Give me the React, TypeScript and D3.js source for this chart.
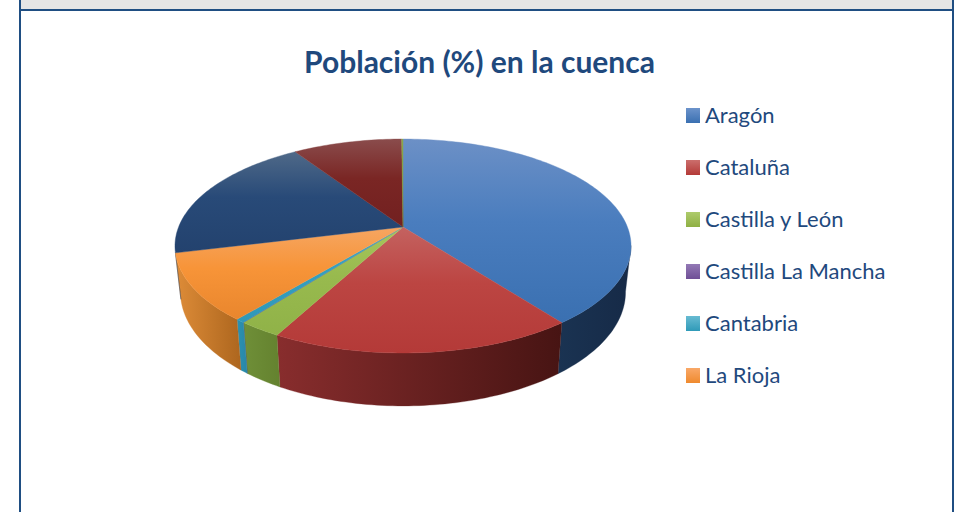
import React from 'react';
import * as d3 from 'd3';

const regions = ['Aragón', 'Cataluña', 'Castilla y León', 'Castilla La Mancha', 'Cantabria', 'La Rioja', 'Navarra', 'País Vasco', 'C. Valenciana'];
const population = [39.6, 18.26, 2.6, 0.01, 0.55, 10.14, 19.53, 9.2, 0.11];
const legendRegions = regions.slice(0, 6);

// top face: light, mid, base colour
const topColors = [
  ['#6c90c6', '#4a7dbe', '#3a70b1'],
  ['#c46260', '#bc4542', '#b43a38'],
  ['#a6c65c', '#98ba4e', '#90b248'],
  ['#8a6cac', '#7d5fa0', '#704f92'],
  ['#3fa8c6', '#33a0c0', '#2f98b8'],
  ['#f6a662', '#f79438', '#e9862d'],
  ['#4f6988', '#284a78', '#23426e'],
  ['#8a4c4c', '#7a2624', '#722020'],
  ['#8aa84a', '#7f9c40', '#76933a'],
];
// side face: left and right colour
const sideColors = [
  ['#1a3352', '#162a47'],
  ['#882d2d', '#471413'],
  ['#6f8f38', '#64822f'],
  ['#55407a', '#4a3770'],
  ['#2b92b2', '#2986a6'],
  ['#de8c38', '#ad661e'],
  ['#1a3352', '#162a47'],
  ['#4a1515', '#4a1515'],
  ['#64822f', '#64822f'],
];
const legendColors = [
  ['#6c93cb', '#3a70b1'],
  ['#cb6e6c', '#b43a38'],
  ['#aecb6c', '#8fb044'],
  ['#9379b5', '#6f4f96'],
  ['#68bbd2', '#2f9ab8'],
  ['#f9a868', '#ef8a2e'],
];

const width = 955;
const height = 512;
const navy = '#1f4e82';
const textColor = '#1f497d';
const font = 'Lato, sans-serif';

// perspective of the pie disc, fitted to the picture
const cx = 403;
const cy = 227;
const persp = 0.1776;
const rx = 224.4;
const ry = 103.6;
// the lower rim is its own ellipse, a bit narrower and rounder than the top
const topMidY = 246;
const rimMidY = 292;
const rimScaleX = 0.976;
const rimScaleY = 1.065;
// part of the side that faces the viewer
const sideFrom = (100 * Math.PI) / 180;
const sideTo = (256.4 * Math.PI) / 180;

const project = (a: number): [number, number] => {
  const X = Math.sin(a);
  const Y = -Math.cos(a);
  const w = 1 - persp * Y;
  return [cx + (rx * X) / w, cy + (ry * Y) / w];
};
const projectRim = (a: number): [number, number] => {
  const [x, y] = project(a);
  return [cx + (x - cx) * rimScaleX, rimMidY + (y - topMidY) * rimScaleY];
};

const line = d3.line();
const arcs = d3.pie<number>().sort(null)(population);
const sampleAngles = (s: number, e: number) => {
  const n = Math.max(2, Math.ceil((e - s) / 0.02));
  return d3.range(n + 1).map((i) => s + ((e - s) * i) / n);
};

const legendY = d3.scalePoint<string>().domain(legendRegions).range([116, 376]);

export default function App() {
  return (
    <svg width={width} height={height} style={{ position: 'absolute', left: 0, top: 0, display: 'block' }}>
      <defs>
        {topColors.map((c, i) => (
          <linearGradient key={i} id={`top${i}`} x1="0" y1="0" x2="0" y2="1">
            <stop offset="0" stopColor={c[0]} />
            <stop offset="0.45" stopColor={c[1]} />
            <stop offset="1" stopColor={c[2]} />
          </linearGradient>
        ))}
        {sideColors.map((c, i) => (
          <linearGradient key={i} id={`side${i}`} x1="0" y1="0" x2="1" y2="0">
            <stop offset="0" stopColor={c[0]} />
            <stop offset="1" stopColor={c[1]} />
          </linearGradient>
        ))}
        {legendColors.map((c, i) => (
          <linearGradient key={i} id={`leg${i}`} x1="0" y1="0" x2="0" y2="1">
            <stop offset="0" stopColor={c[0]} />
            <stop offset="1" stopColor={c[1]} />
          </linearGradient>
        ))}
      </defs>

      <rect x={0} y={0} width={width} height={height} fill="#ffffff" />
      <rect x={21} y={0} width={931} height={9} fill="#e5e5e5" />
      <rect x={19} y={9} width={935} height={2} fill={navy} />
      <rect x={19} y={0} width={2} height={height} fill={navy} />
      <rect x={952} y={0} width={2} height={height} fill={navy} />

      <text x={479.5} y={73} textAnchor="middle" fontFamily={font} fontWeight={700} fontSize={30} fill={textColor}>
        Población (%) en la cuenca
      </text>

      {arcs.map((d, i) => {
        const s = Math.max(d.startAngle, sideFrom);
        const e = Math.min(d.endAngle, sideTo);
        if (e <= s) return null;
        const angles = sampleAngles(s, e);
        const pts = [...angles.map((a) => project(a)), ...angles.slice().reverse().map((a) => projectRim(a))];
        return <path key={i} d={line(pts) + 'Z'} fill={`url(#side${i})`} stroke={`url(#side${i})`} strokeWidth={0.3} />;
      })}
      {arcs.map((d, i) => {
        const pts: [number, number][] = [[cx, cy], ...sampleAngles(d.startAngle, d.endAngle).map((a) => project(a))];
        return <path key={i} d={line(pts) + 'Z'} fill={`url(#top${i})`} stroke={`url(#top${i})`} strokeWidth={0.4} />;
      })}

      {legendRegions.map((name, i) => {
        const y = legendY(name) as number;
        return (
          <g key={name}>
            <rect x={686} y={y - 8} width={14} height={15} fill={`url(#leg${i})`} />
            <text x={705} y={y + 7} fontFamily={font} fontSize={22} fill={textColor}>
              {name}
            </text>
          </g>
        );
      })}
    </svg>
  );
}
